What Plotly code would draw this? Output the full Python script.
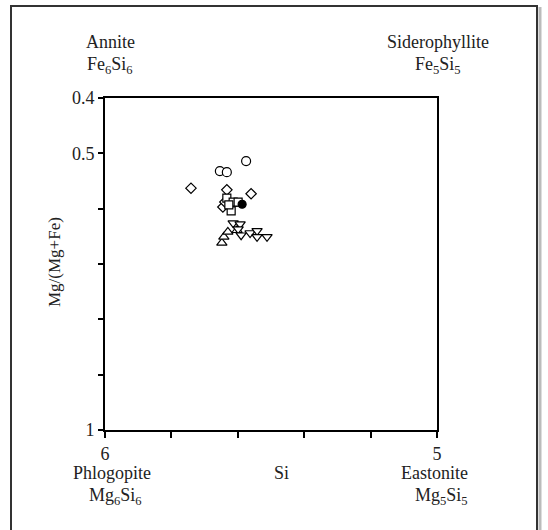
import plotly.graph_objects as go

# Data (Si, Mg/(Mg+Fe))
circ_x = [5.654, 5.633, 5.575]
circ_y = [0.532, 0.534, 0.514]
diam_x = [5.741, 5.633, 5.560, 5.645, 5.639]
diam_y = [0.563, 0.566, 0.573, 0.597, 0.588]
sq_x = [5.633, 5.614, 5.599, 5.620, 5.627]
sq_y = [0.581, 0.588, 0.588, 0.604, 0.593]
fcirc_x = [5.587]
fcirc_y = [0.592]
tup_x = [5.648, 5.642, 5.630, 5.602]
tup_y = [0.662, 0.651, 0.642, 0.639]
tdn_x = [5.614, 5.593, 5.599, 5.590, 5.563, 5.542, 5.542, 5.512]
tdn_y = [0.626, 0.628, 0.637, 0.648, 0.644, 0.640, 0.651, 0.651]

x_ticks = [6, 5.8, 5.6, 5.4, 5.2, 5]
x_ticktext = ["6", "", "", "", "", "5"]
y_ticks = [0.4, 0.5, 0.6, 0.7, 0.8, 0.9, 1.0]
y_ticktext = ["0.4", "0.5", "", "", "", "", "1"]

FONT = "Liberation Serif"
FS = 18
TXT = "#222"
fig = go.Figure()


def add(xs, ys, symbol, filled=False, size=8):
    fig.add_trace(go.Scatter(
        x=xs, y=ys, mode="markers",
        marker=dict(symbol=symbol, size=size,
                    color="black" if filled else "white",
                    line=dict(color="black", width=1.2)),
        showlegend=False))


add(circ_x, circ_y, "circle", size=9)
add(diam_x, diam_y, "diamond", size=8)
add(sq_x, sq_y, "square", size=8)
add(fcirc_x, fcirc_y, "circle", filled=True, size=8)
add(tup_x, tup_y, "triangle-up", size=9)
add(tdn_x, tdn_y, "triangle-down", size=9)

W, H = 548, 530
# plot frame in page pixels
FX0, FX1, FY0, FY1 = 105, 437, 98, 430
L = FX0
R = W - FX1
T = FY0
B = H - FY1
pw, ph = FX1 - FX0, FY1 - FY0


def px(xp):
    return (xp - FX0) / pw


def py(yp):
    return (FY1 - yp) / ph


fig.update_layout(
    width=W, height=H,
    margin=dict(l=L, r=R, t=T, b=B),
    paper_bgcolor="white", plot_bgcolor="white",
    font=dict(family=FONT, size=FS, color=TXT),
    xaxis=dict(range=[6, 5], tickvals=x_ticks, ticktext=x_ticktext,
               showgrid=False, zeroline=False, showline=True, mirror=True,
               linecolor="black", linewidth=2, ticks="outside", ticklen=6,
               tickwidth=1.5, tickcolor="black",
               tickfont=dict(family=FONT, size=FS, color=TXT)),
    yaxis=dict(range=[1.0, 0.4], tickvals=y_ticks, ticktext=y_ticktext,
               showgrid=False, zeroline=False, showline=True, mirror=True,
               linecolor="black", linewidth=2, ticks="outside", ticklen=5,
               tickwidth=1.5, tickcolor="black",
               tickfont=dict(family=FONT, size=FS, color=TXT)),
    shapes=[
        dict(type="line", xref="paper", yref="paper",
             x0=px(540), x1=px(540), y0=py(540), y1=py(7),
             line=dict(color="#bbb", width=3)),
        dict(type="rect", xref="paper", yref="paper",
             x0=px(11), x1=px(537), y0=py(540), y1=py(6),
             line=dict(color="#333", width=2)),
    ],
)


def ann(text, xp, yp, anchor="center", angle=0, size=FS):
    fig.add_annotation(text=text, xref="paper", yref="paper",
                       x=px(xp), y=py(yp), showarrow=False,
                       xanchor=anchor, yanchor="middle", textangle=angle,
                       font=dict(family=FONT, size=size, color=TXT))


ann("Annite", 110, 42)
ann("Fe<sub>6</sub>Si<sub>6</sub>", 110, 65)
ann("Siderophyllite", 438, 42)
ann("Fe<sub>5</sub>Si<sub>5</sub>", 438, 65)
ann("Phlogopite", 112, 473)
ann("Mg<sub>6</sub>Si<sub>6</sub>", 115, 496)
ann("Si", 281, 473)
ann("Eastonite", 434, 473)
ann("Mg<sub>5</sub>Si<sub>5</sub>", 441, 496)
ann("Mg/(Mg+Fe)", 54, 262, angle=-90, size=17)

fig.write_html(
    "out.html",
    config={"displayModeBar": False},
    post_script=("document.body.style.margin='0';"
                 "document.body.style.overflow='hidden';"
                 "document.documentElement.style.overflow='hidden';"),
)
